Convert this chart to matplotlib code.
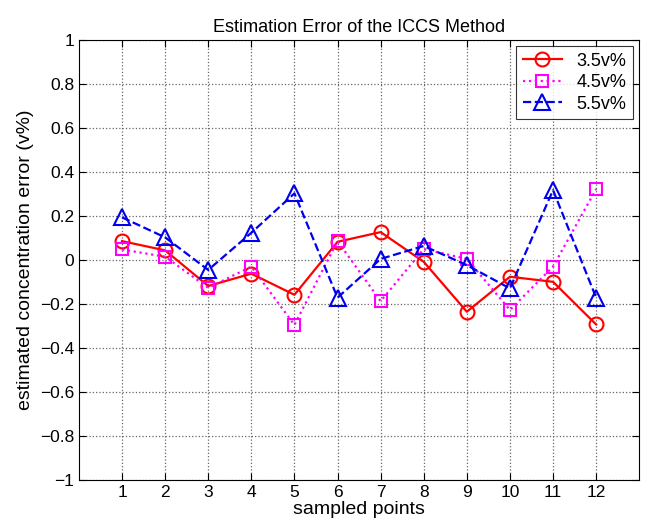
import numpy as np
import matplotlib.pyplot as plt

plt.rcParams['font.family'] = ['Liberation Sans', 'DejaVu Sans']

points = list(range(1, 13))
err_35 = [0.086, 0.044, -0.118, -0.062, -0.158, 0.083, 0.127, -0.008, -0.235, -0.076, -0.099, -0.293]
err_45 = [0.048, 0.015, -0.126, -0.030, -0.295, 0.086, -0.187, 0.050, 0.005, -0.227, -0.030, 0.323]
err_55 = [0.194, 0.103, -0.045, 0.124, 0.303, -0.171, 0.005, 0.064, -0.023, -0.129, 0.318, -0.171]

fig = plt.figure(figsize=(6.47, 5.28), dpi=100)
ax = fig.add_axes([0.122, 0.091, 0.866, 0.833])

ax.plot(points, err_35, '-o', color='red', lw=1.6, ms=10, mfc='none', mew=1.5, label='3.5v%')
ax.plot(points, err_45, ':s', color='magenta', lw=1.6, ms=8, mfc='none', mew=1.5, label='4.5v%')
ax.plot(points, err_55, '--^', color='#0000ee', lw=1.6, ms=11, mfc='none', mew=1.5, label='5.5v%')

ax.set_xlim(0, 13)
ax.set_ylim(-1, 1)
ax.set_xticks(points)
ax.set_yticks(np.arange(-1, 1.01, 0.2))
ax.set_yticklabels(['\u22121', '\u22120.8', '\u22120.6', '\u22120.4', '\u22120.2', '0',
                    '0.2', '0.4', '0.6', '0.8', '1'])
ax.tick_params(direction='in', top=True, right=True, labelsize=12.5, length=5)
ax.grid(True, linestyle=':', color='#666666', lw=0.9)

ax.set_title('Estimation Error of the ICCS Method', fontsize=13)
ax.set_xlabel('sampled points', fontsize=14, labelpad=1)
ax.set_ylabel('estimated concentration error (v%)', fontsize=14)

leg = ax.legend(loc='upper right', fontsize=13, fancybox=False, edgecolor='black',
                handlelength=2.2, borderpad=0.35, labelspacing=0.25,
                borderaxespad=0.35)
leg.get_frame().set_linewidth(0.8)

fig.savefig('out.png', dpi=100)
